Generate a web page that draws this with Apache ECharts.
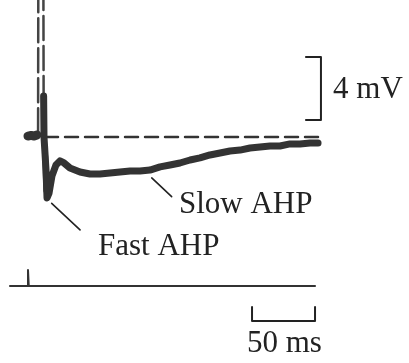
<!DOCTYPE html>
<html><head><meta charset="utf-8">
<script src="https://cdn.jsdelivr.net/npm/echarts@6/dist/echarts.min.js"></script>
<style>html,body{margin:0;padding:0;background:#fff}#c{width:409px;height:363px}</style>
</head><body><div id="c"></div>
<script>
// Membrane potential trace: [time ms, mV relative to rest]
const preSpike = [[0,0.06],[2.5,0.1],[4.8,0.06],[7.1,0.13]];
const spike = [[8.0,0.3],[8.2,10.5],[12.2,10.5],[12.4,2.6]];
const afterSpike = [[12.4,2.6],[12.7,0],[14.3,-2.1],[15.1,-3.87],[16.7,-3.56],[19,-2.48],[22.2,-1.78],[25.4,-1.52],
  [28.6,-1.65],[33.3,-1.97],[41.3,-2.22],[49.2,-2.35],[57.1,-2.35],[65.1,-2.29],[73,-2.22],[81,-2.16],
  [88.9,-2.16],[96.8,-2.1],[104.8,-1.9],[112.7,-1.78],[120.6,-1.65],[128.6,-1.46],[136.5,-1.33],
  [144.4,-1.14],[152.4,-1.02],[160.3,-0.89],[168.3,-0.83],[176.2,-0.70],[184.1,-0.63],[192.1,-0.57],
  [200,-0.57],[207.9,-0.44],[215.9,-0.44],[223.8,-0.38],[230.2,-0.38]];
const troughBlob = [[13.6,-1.2],[14.6,-3.4],[15.6,-3.2],[16.4,-2.4]];
const restLevel = [[13.5,0],[231.7,0]];
// Current-injection trace
const stimulus = [[-14.3,-9.46],[0,-9.46],[0,-8.44],[0.6,-9.46],[227.8,-9.46]];
// Scale bars
const mvBar = [[220.6,5.08],[232.5,5.08],[232.5,1.08],[220.6,1.08]];
const msBar = [[177.8,-10.79],[177.8,-11.68],[227.8,-11.68],[227.8,-10.79]];
// Annotation leaders
const slowLeader = [[98.2,-2.6],[114,-3.79]];
const fastLeader = [[18.8,-4.21],[41.3,-5.9]];
// Text labels
const leftLabels = [[241.3,3.0,'4 mV'],[119,-4.32,'Slow AHP'],[54.8,-6.98,'Fast AHP']];
const centerLabels = [[203.5,-13.14,'50 ms']];

const ink = '#222';
const trace = '#333';
const font = {fontFamily:'Liberation Serif', fontSize:31, color:ink, opacity:1};

function line(data, width, color, type){
  return {type:'line', data, symbol:'none', silent:true, animation:false, clip:true,
    lineStyle:{width, color, type: type || 'solid', cap:'round', join:'round'}};
}

const chart = echarts.init(document.getElementById('c'), null, {renderer:'canvas'});
chart.setOption({
  animation:false,
  grid:{left:0,right:0,top:0,bottom:0},
  xAxis:{type:'value', min:-22.22, max:302.38, show:false},
  yAxis:{type:'value', min:-14.349, max:8.698, show:false},
  series:[
    line(restLevel, 2.5, trace, [13,7]),
    line(spike, 2.5, '#444', [24,6]),
    line(preSpike, 9, trace),
    line(afterSpike, 7, trace),
    line(troughBlob, 6, trace),
    line(stimulus, 2, trace),
    line(mvBar, 2, ink),
    line(msBar, 2, ink),
    line(slowLeader, 1.6, ink),
    line(fastLeader, 1.6, ink),
    {type:'scatter', data:leftLabels, symbolSize:2, itemStyle:{color:'rgba(0,0,0,0)'}, animation:false, silent:true,
      label:Object.assign({show:true, position:'right', distance:0, align:'left', verticalAlign:'middle',
        formatter:p=>p.data[2]}, font)},
    {type:'scatter', data:centerLabels, symbolSize:2, itemStyle:{color:'rgba(0,0,0,0)'}, animation:false, silent:true,
      label:Object.assign({show:true, position:'inside', align:'center', verticalAlign:'middle',
        formatter:p=>p.data[2]}, font)}
  ]
});
</script></body></html>
